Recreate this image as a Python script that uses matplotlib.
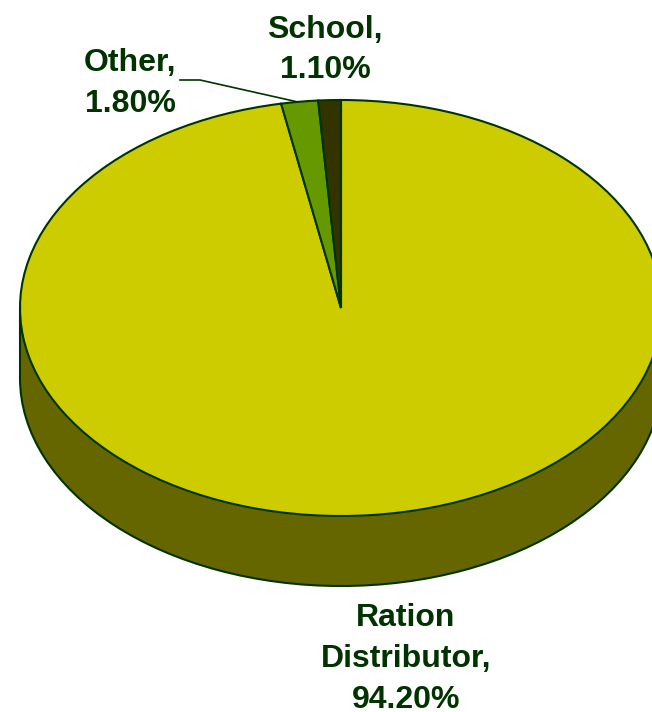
import matplotlib
matplotlib.use("Agg")
import matplotlib.pyplot as plt
from matplotlib.lines import Line2D
from matplotlib.patches import Rectangle

categories = ["Ration\nDistributor,", "Other,", "School,"]
values = [94.20, 1.80, 1.10]
value_labels = ["94.20%", "1.80%", "1.10%"]
colors = ["#CCCC00", "#669900", "#333300"]
side_color = "#666600"
edge_color = "#003300"

W, H = 652, 712
CX, CY, RX, RY, DEPTH = 341, 308, 321, 208, 70

plt.rcParams["font.family"] = ["Liberation Sans", "DejaVu Sans"]
fig = plt.figure(figsize=(W / 100, H / 100), dpi=100, facecolor="white")
ax = fig.add_axes([0, 0, 1, 1])
lw = 1.5
d = DEPTH / RY

# extruded side of the pie
ax.pie([1], startangle=90, center=(0, -d), colors=[side_color],
       wedgeprops=dict(edgecolor=edge_color, linewidth=lw))
ax.add_patch(Rectangle((-1, -d), 2, d, facecolor=side_color, edgecolor="none"))
for sx in (-1, 1):
    ax.plot([sx, sx], [-d, 0], color=edge_color, lw=lw)

# top face
ax.pie(values, startangle=90, counterclock=False, colors=colors,
       wedgeprops=dict(edgecolor=edge_color, linewidth=lw))

ax.set_aspect("auto")
ax.set_xlim((0 - CX) / RX, (W - CX) / RX)
ax.set_ylim((CY - H) / RY, CY / RY)
ax.axis("off")

label_pos = [(406, 659), (130, 83.5), (325, 50)]
for cat, vl, (px, py) in zip(categories, value_labels, label_pos):
    fig.text(px / W, 1 - py / H, f"{cat}\n{vl}", ha="center", va="center",
             fontsize=23, fontweight="bold", color=edge_color, linespacing=1.46,
             multialignment="center")

leader_x = [180, 200, 298]
leader_y = [80, 80, 102]
fig.add_artist(Line2D([x / W for x in leader_x], [1 - y / H for y in leader_y],
                      color=edge_color, lw=1.2))

fig.savefig("out.png", dpi=100)
